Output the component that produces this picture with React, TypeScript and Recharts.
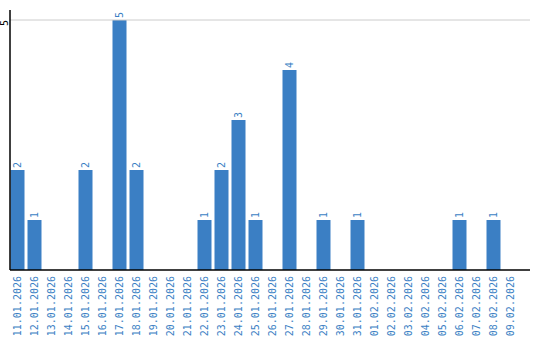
import React from "react";
import { BarChart, Bar, XAxis, YAxis, ReferenceLine, LabelList } from "recharts";

const dates = [
  "11.01.2026", "12.01.2026", "13.01.2026", "14.01.2026", "15.01.2026",
  "16.01.2026", "17.01.2026", "18.01.2026", "19.01.2026", "20.01.2026",
  "21.01.2026", "22.01.2026", "23.01.2026", "24.01.2026", "25.01.2026",
  "26.01.2026", "27.01.2026", "28.01.2026", "29.01.2026", "30.01.2026",
  "31.01.2026", "01.02.2026", "02.02.2026", "03.02.2026", "04.02.2026",
  "05.02.2026", "06.02.2026", "07.02.2026", "08.02.2026", "09.02.2026",
];
const counts = [2, 1, 0, 0, 2, 0, 5, 2, 0, 0, 0, 1, 2, 3, 1, 0, 4, 0, 1, 0, 1, 0, 0, 0, 0, 0, 1, 0, 1, 0];
const yTicks = [5];

const data = dates.map((d, i) => ({ date: d, value: counts[i] }));

const BLUE = "#3b7fc4";
const FONT = "'DejaVu Sans Mono', monospace";

const XTick = (props: any) => {
  const { x, payload } = props;
  const y = 276;
  return (
    <text
      x={x}
      y={y}
      transform={`rotate(-90, ${x}, ${y})`}
      textAnchor="end"
      dy="0.35em"
      fill={BLUE}
      fontSize={10}
      fontFamily={FONT}
    >
      {payload.value}
    </text>
  );
};

const YTick = (props: any) => {
  const { y, payload } = props;
  const x = 4.5;
  return (
    <text
      x={x}
      y={y}
      transform={`rotate(-90, ${x}, ${y})`}
      textAnchor="end"
      dy="0.35em"
      fill="#000"
      fontSize={10}
      fontFamily={FONT}
    >
      {payload.value}
    </text>
  );
};

const ValueLabel = (props: any) => {
  const { x, y, width, value } = props;
  if (!value) return null;
  const cx = x + width / 2;
  const cy = y - 2;
  return (
    <text
      x={cx}
      y={cy}
      transform={`rotate(-90, ${cx}, ${cy})`}
      textAnchor="start"
      dy="0.35em"
      fill={BLUE}
      fontSize={10}
      fontFamily={FONT}
    >
      {value}
    </text>
  );
};

export default function App() {
  return (
    <div style={{ position: "absolute", left: 0, top: 0, width: 540, height: 340 }}>
      <BarChart
        width={540}
        height={340}
        data={data}
        margin={{ top: 10, right: 10, bottom: 0, left: 0 }}
        barSize={14}
      >
        <ReferenceLine y={5} stroke="#cccccc" strokeWidth={1} ifOverflow="visible" />
        <XAxis
          dataKey="date"
          interval={0}
          height={70}
          padding={{ left: -1.5, right: 11.5 }}
          tickLine={false}
          axisLine={{ stroke: "#000", strokeWidth: 1.5 }}
          tick={<XTick />}
        />
        <YAxis
          width={10}
          domain={[0, 5]}
          ticks={yTicks}
          padding={{ top: 10, bottom: 0 }}
          tickLine={false}
          axisLine={{ stroke: "#000", strokeWidth: 1.5 }}
          tick={<YTick />}
          allowDataOverflow
        />
        <Bar dataKey="value" fill={BLUE} isAnimationActive={false}>
          <LabelList dataKey="value" content={<ValueLabel />} />
        </Bar>
      </BarChart>
    </div>
  );
}
